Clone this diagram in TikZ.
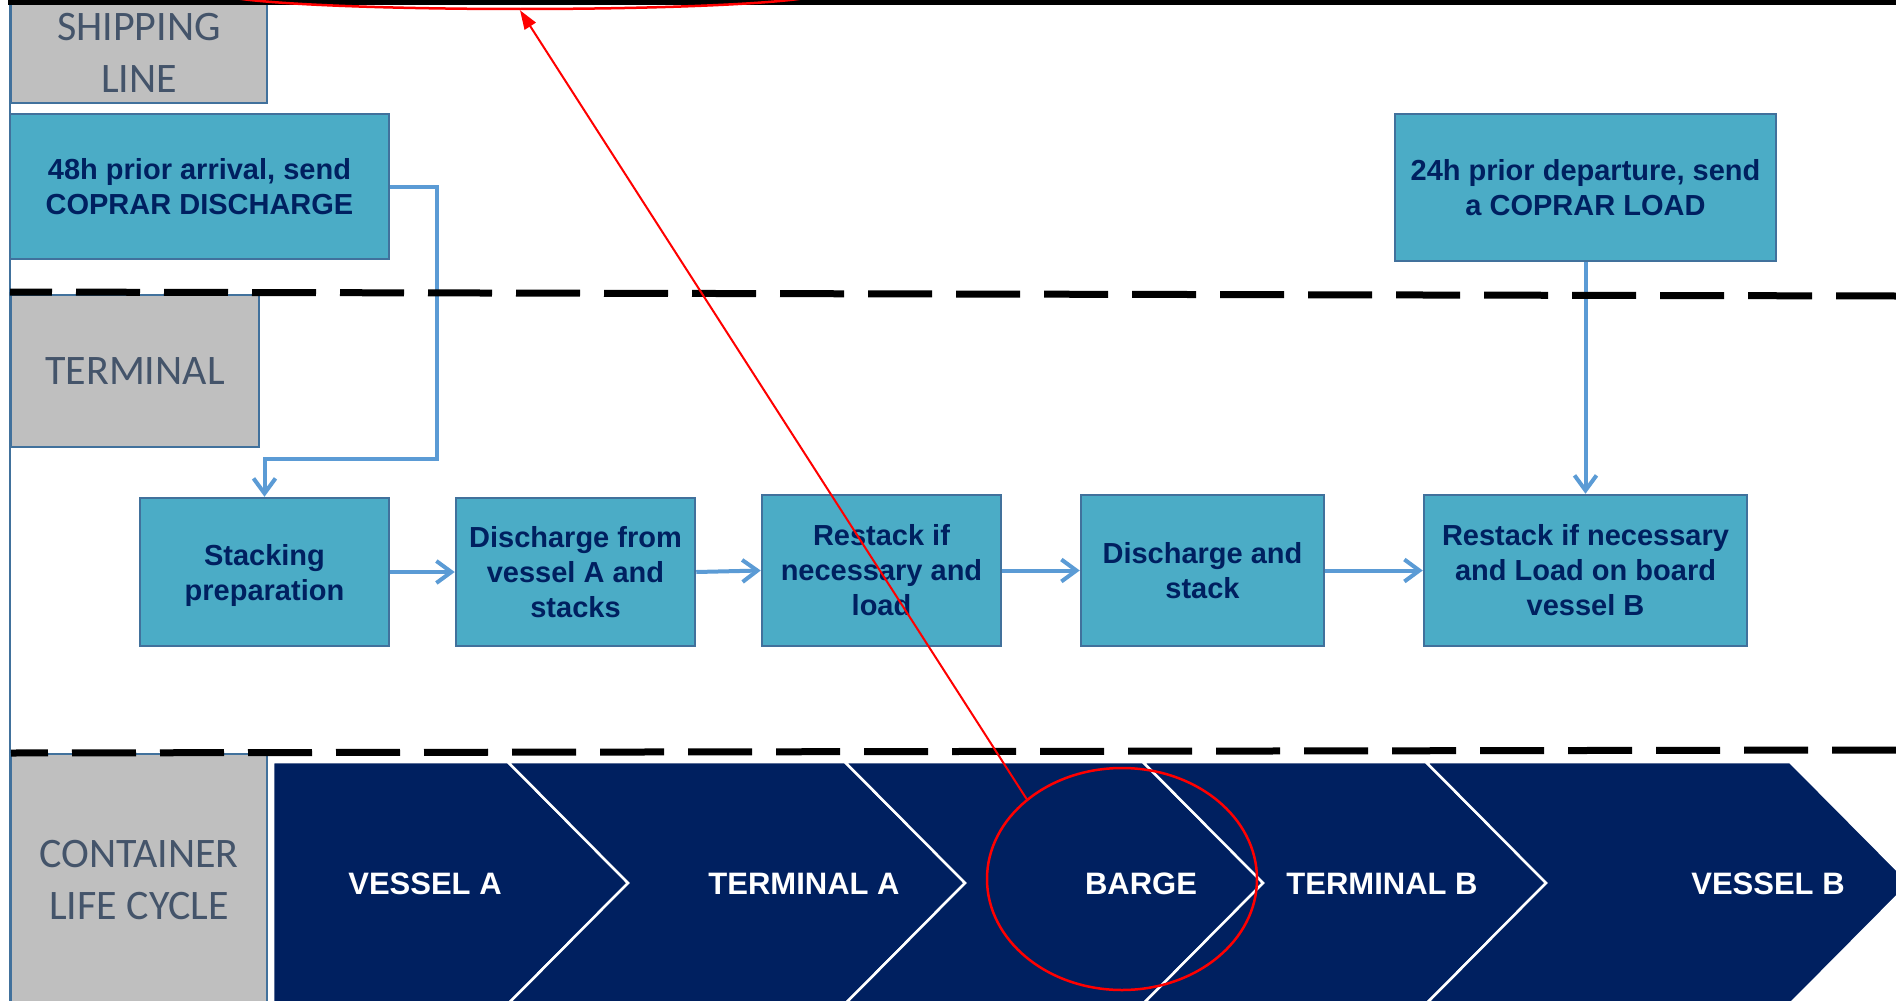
\documentclass[tikz,border=0pt]{standalone}
\usepackage{fontspec}
\setmainfont{Liberation Sans}
\newfontfamily\carlitofont{Carlito}
\usetikzlibrary{arrows.meta,shapes.geometric}
\definecolor{procfill}{HTML}{4BACC6}
\definecolor{procdraw}{HTML}{41719C}
\definecolor{navy}{HTML}{002060}
\definecolor{lanegray}{HTML}{BFBFBF}
\definecolor{lanetext}{HTML}{44546A}
\definecolor{arrowblue}{HTML}{5B9BD5}
\definecolor{annotred}{HTML}{FF0000}
\begin{document}
\begin{tikzpicture}[x=1pt,y=-1pt,
  lanebox/.style={draw=procdraw, line width=2pt, fill=lanegray, inner sep=0pt, text=lanetext, font=\carlitofont\fontsize{42}{52}\selectfont, align=center},
  procbox/.style={draw=procdraw, line width=2.5pt, fill=procfill, inner sep=0pt, text=navy, font=\bfseries\fontsize{29}{35}\selectfont, align=center},
  flow/.style={draw=arrowblue, line width=4pt, -{Straight Barb[length=15pt,width=22pt]}},
  feed/.style={draw=arrowblue, line width=4pt, -{Straight Barb[length=15pt,width=22pt]}},
  phase/.style={fill=navy, draw=white, line width=2.5pt},
  phasetext/.style={text=white, inner sep=0pt, font=\bfseries\fontsize{31}{37}\selectfont},
  lanesep/.style={draw=black, line width=7pt, dash pattern=on 64pt off 24pt},
  redmark/.style={draw=annotred, line width=2.5pt},
]
\useasboundingbox (0,0) rectangle (1896,1001);
\clip (0,0) rectangle (1896,1001);

% left frame line
\draw[procdraw, line width=1.5pt] (10,0) -- (10,1001);

% lane labels
\node[lanebox, minimum width=256pt, minimum height=100pt] (shipLane) at (139,53) {SHIPPING\\LINE};
\node[lanebox, minimum width=248pt, minimum height=152pt] (termLane) at (135,371) {TERMINAL};
\node[lanebox, minimum width=256pt, minimum height=252pt] (contLane) at (139,880) {CONTAINER\\LIFE CYCLE};

% process boxes
\node[procbox, minimum width=379pt, minimum height=145pt] (ship) at (199.5,186.5) {48h prior arrival, send\\COPRAR DISCHARGE};
\node[procbox, minimum width=381pt, minimum height=147pt] (load24) at (1585.5,187.5) {24h prior departure, send\\a COPRAR LOAD};
\node[procbox, minimum width=249pt, minimum height=148pt, text depth=0pt] (stack) at (264.5,572) {Stacking\\preparation};
\node[procbox, minimum width=239pt, minimum height=148pt] (disA) at (575.5,572) {Discharge from\\vessel A and\\stacks};
\node[procbox, minimum width=239pt, minimum height=151pt] (restA) at (881.5,570.5) {Restack if\\necessary and\\load};
\node[procbox, minimum width=243pt, minimum height=151pt] (disB) at (1202.5,570.5) {Discharge and\\stack};
\node[procbox, minimum width=323pt, minimum height=151pt] (restB) at (1585.5,570.5) {Restack if necessary\\and Load on board\\vessel B};

% connectors
\draw[flow] (stack.east) -- (disA.west);
\draw[flow] (disA.east) -- (restA.west);
\draw[flow] (restA.east) -- (disB.west);
\draw[flow] (disB.east) -- (restB.west);
\draw[feed] (ship.east) -| (436.5,459) -| (stack.north);
\draw[feed] (load24.south) -- (restB.north);

% container life cycle chevrons
\path[phase] (273,762) -- (508,762) -- (628,883) -- (508,1004) -- (273,1004) -- cycle;
\path[phase] (508,762) -- (845,762) -- (965,883) -- (845,1004) -- (508,1004) -- (628,883) -- cycle;
\path[phase] (845,762) -- (1143,762) -- (1263,883) -- (1143,1004) -- (845,1004) -- (965,883) -- cycle;
\path[phase] (1143,762) -- (1426,762) -- (1546,883) -- (1426,1004) -- (1143,1004) -- (1263,883) -- cycle;
\path[phase] (1426,762) -- (1790,762) -- (1910,883) -- (1790,1004) -- (1426,1004) -- (1546,883) -- cycle;
\node[phasetext] (vA) at (425,884) {VESSEL A};
\node[phasetext] (tA) at (804,884) {TERMINAL A};
\node[phasetext] (bg) at (1141,884) {BARGE};
\node[phasetext] (tB) at (1382,884) {TERMINAL B};
\node[phasetext] (vB) at (1768,884) {VESSEL B};

% lane separators
\draw[lanesep, dash phase=22pt] (10,292) -- (1896,296);
\draw[lanesep, dash phase=27pt] (11,753) -- (1896,750);
\fill[black] (8,0) rectangle (1896,5);

% red annotations
\node[ellipse, redmark, minimum width=600pt, minimum height=32pt, inner sep=0pt] (topring) at (520,-7) {};
\node[ellipse, redmark, minimum width=270pt, minimum height=222pt, inner sep=0pt] (ring) at (1122,879) {};
\draw[annotred, line width=2pt, -{Triangle[length=19pt,width=13pt]}] (ring.140) -- (topring.south);
\end{tikzpicture}
\end{document}
